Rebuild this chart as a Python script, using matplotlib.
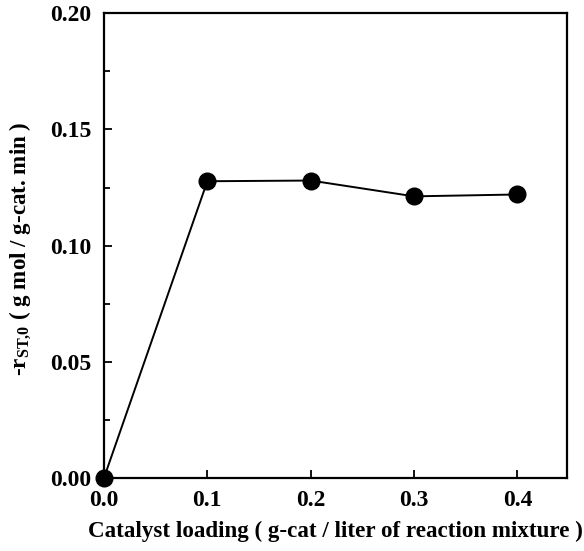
import numpy as np
import matplotlib
matplotlib.use('Agg')
import matplotlib.pyplot as plt
from matplotlib.ticker import MultipleLocator

#catalyst loading vs initial rate
loading = [0.0, 0.1, 0.2, 0.3, 0.4]
rate = [0.0, 0.1277, 0.1280, 0.1212, 0.1220]

x_ticks = [0.0, 0.1, 0.2, 0.3, 0.4]
y_ticks = [0.00, 0.05, 0.10, 0.15, 0.20]

plt.rcParams['font.family'] = 'Liberation Serif'
plt.rcParams['font.weight'] = 'bold'
plt.rcParams['mathtext.fontset'] = 'custom'
plt.rcParams['mathtext.rm'] = 'Liberation Serif:bold'
plt.rcParams['mathtext.bf'] = 'Liberation Serif:bold'

fig = plt.figure( figsize = (5.84, 5.51), dpi = 100 )
ax = fig.add_axes( [0.178, 0.1325, 0.793, 0.8435] )

ax.plot( loading, rate, color = 'black', lw = 1.4, marker = 'o', ms = 12, mfc = 'black', clip_on = False, zorder = 3 )

ax.set_xlim( 0, 0.448 )
ax.set_ylim( 0, 0.20 )
ax.set_xticks( x_ticks )
ax.set_xticklabels( ['{:.1f}'.format(t) for t in x_ticks] )
ax.set_yticks( y_ticks )
ax.set_yticklabels( ['{:.2f}'.format(t) for t in y_ticks] )
ax.yaxis.set_minor_locator( MultipleLocator(0.025) )

ax.tick_params( which = 'both', direction = 'in', labelsize = 17, width = 1.3 )
ax.tick_params( which = 'major', length = 6, pad = 9 )
ax.tick_params( which = 'minor', length = 4 )
for s in ax.spines.values():
    s.set_linewidth( 1.6 )

ax.set_xlabel( 'Catalyst loading ( g-cat / liter of reaction mixture )', fontsize = 16.6, fontweight = 'bold', labelpad = 7 )
ax.set_ylabel( r'-r$_{\mathrm{ST{,}0}}$ ( g mol / g-cat. min )', fontsize = 16.6, fontweight = 'bold' )
ax.yaxis.set_label_coords( -0.153, 0.494 )

plt.savefig( 'out.png' )
